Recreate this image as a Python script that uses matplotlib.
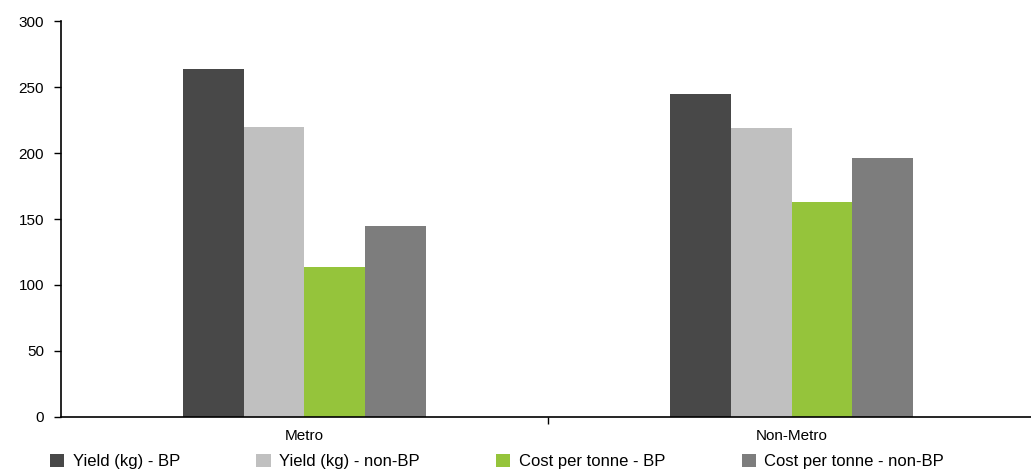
import numpy as np
from matplotlib import pyplot as plt

categories = ['Metro', 'Non-Metro']
series_names = ['Yield (kg) - BP', 'Yield (kg) - non-BP',
                'Cost per tonne - BP', 'Cost per tonne - non-BP']
yield_bp = [264, 245]
yield_non_bp = [220, 219]
cost_bp = [114, 163]
cost_non_bp = [145, 196]
colors = ['#484848', '#c0c0c0', '#95c43b', '#7d7d7d']

plt.rcParams['font.family'] = ['Liberation Sans', 'DejaVu Sans']

fig = plt.figure(figsize=(10.31, 4.70), dpi=100)
ax = fig.add_axes([0.059, 0.113, 0.945, 0.842])

x = np.arange(len(categories))
width = 0.125
all_series = [yield_bp, yield_non_bp, cost_bp, cost_non_bp]
for i, (vals, name, c) in enumerate(zip(all_series, series_names, colors)):
    ax.bar(x + (i - 1.5) * width, vals, width, color=c, label=name, linewidth=0)

ax.set_xlim(-0.5, 1.5)
ax.set_ylim(0, 300)
ax.set_yticks(range(0, 301, 50))
ax.set_xticks([0.5, 1.5])
ax.set_xticklabels([])
ax.set_xticks(x, minor=True)
ax.set_xticklabels(categories, minor=True, fontsize=11)
ax.tick_params(axis='x', which='minor', length=0, pad=9)
ax.tick_params(axis='x', which='major', length=5, width=1)
ax.tick_params(axis='y', length=5, width=1, labelsize=11, pad=7)
for s in ['top', 'right']:
    ax.spines[s].set_visible(False)
for s in ['left', 'bottom']:
    ax.spines[s].set_linewidth(1.2)

fig.legend(loc='lower left', bbox_to_anchor=(0.034, -0.03), ncol=4, frameon=False,
           fontsize=12, handlelength=0.85, handleheight=0.85, handletextpad=0.5,
           columnspacing=4.6)

plt.savefig('out.png', dpi=100)
